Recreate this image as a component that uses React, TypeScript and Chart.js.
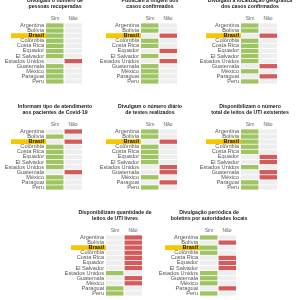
import React, { useEffect, useRef } from 'react';
import { Chart, registerables } from 'chart.js';

Chart.register(...registerables);

const countries = [
  'Argentina', 'Bolívia', 'Brasil', 'Colômbia', 'Costa Rica', 'Equador',
  'El Salvador', 'Estados Unidos', 'Guatemala', 'México', 'Paraguai', 'Peru',
];

const columnLabels = ['Sim', 'Não'];
const highlighted = 'Brasil';

const titles = [
  ['Divulgam o número de', 'pessoas recuperadas'],
  ['Publicam a origem dos', 'casos confirmados'],
  ['Divulgam a localização geográfica', 'dos casos confirmados'],
  ['Informam tipo de atendimento', 'aos pacientes de Covid-19'],
  ['Divulgam o número diário', 'de testes realizados'],
  ['Disponibilizam o número', 'total de leitos de UTI existentes'],
  ['Disponibilizam quantidade de', 'leitos de UTI livres'],
  ['Divulgação periódica de', 'boletins por autoridades locais'],
];

// 1 = Sim, 0 = Não
const recuperadas = [1, 1, 1, 1, 1, 1, 1, 0, 1, 1, 1, 1];
const origem = [1, 1, 0, 1, 1, 0, 1, 0, 1, 1, 1, 1];
const localizacao = [1, 1, 0, 1, 1, 1, 1, 1, 0, 1, 0, 1];
const atendimento = [0, 1, 0, 1, 1, 1, 1, 1, 0, 1, 1, 1];
const testes = [1, 1, 0, 1, 1, 1, 1, 0, 0, 1, 0, 1];
const leitosTotal = [1, 1, 1, 1, 1, 0, 0, 1, 0, 0, 1, 1];
const leitosLivres = [0, 0, 0, 0, 0, 0, 0, 1, 0, 0, 1, 1];
const boletins = [1, 0, 1, 1, 0, 0, 0, 1, 1, 1, 0, 1];

const answers = [recuperadas, origem, localizacao, atendimento, testes, leitosTotal, leitosLivres, boletins];

const GREEN = '#9fc563';
const RED = '#d45b5b';
const GRAY = '#eeeeee';
const YELLOW = '#f7c600';
const FONT = 'Liberation Sans, Arial, sans-serif';

const W = 106;
const H = 88;
const LABEL_W = 44;

const positions = [
  { left: 2, top: -4 },
  { left: 97, top: -4 },
  { left: 197, top: -4 },
  { left: 2, top: 102 },
  { left: 97, top: 102 },
  { left: 197, top: 102 },
  { left: 62, top: 208 },
  { left: 156, top: 208 },
];

const highlightPlugin = {
  id: 'highlightRow',
  beforeDraw(chart: any) {
    const y = chart.scales.y;
    const idx = countries.indexOf(highlighted);
    const py = y.getPixelForValue(idx);
    const pitch = (y.bottom - y.top) / countries.length;
    const h = pitch * 0.95;
    const ctx = chart.ctx;
    ctx.save();
    ctx.fillStyle = YELLOW;
    ctx.fillRect(chart.chartArea.left - 35, py - h / 2, 35, h);
    ctx.restore();
  },
};

function Panel({ title, values, left, top }: { title: string[]; values: number[]; left: number; top: number }) {
  const ref = useRef<HTMLCanvasElement>(null);
  useEffect(() => {
    const chart = new Chart(ref.current as HTMLCanvasElement, {
      type: 'bar',
      data: {
        labels: countries,
        datasets: [
          {
            label: columnLabels[0],
            data: values.map(() => [0, 0.97]) as any,
            backgroundColor: values.map((v) => (v === 1 ? GREEN : GRAY)),
          },
          {
            label: columnLabels[1],
            data: values.map(() => [1.03, 2]) as any,
            backgroundColor: values.map((v) => (v === 0 ? RED : GRAY)),
          },
        ],
      },
      options: {
        indexAxis: 'y',
        responsive: false,
        animation: false,
        devicePixelRatio: 1,
        datasets: { bar: { grouped: false, categoryPercentage: 0.84, barPercentage: 1 } } as any,
        layout: { padding: 0 },
        scales: {
          x: {
            type: 'linear',
            position: 'top',
            min: 0,
            max: 3.44,
            grid: { display: false, drawTicks: false },
            border: { display: false },
            afterBuildTicks: (s: any) => {
              s.ticks = [{ value: 0.5 }, { value: 1.5 }];
            },
            afterFit: (s: any) => {
              s.height = 8;
              s.paddingLeft = 0;
              s.paddingRight = 0;
            },
            ticks: {
              autoSkip: false,
              maxRotation: 0,
              padding: 1,
              color: '#666',
              font: { family: FONT, size: 5 },
              callback: (v: any) => (v === 0.5 ? columnLabels[0] : v === 1.5 ? columnLabels[1] : ''),
            },
          },
          y: {
            type: 'category',
            grid: { display: false, drawTicks: false },
            border: { display: false },
            afterFit: (s: any) => {
              s.width = LABEL_W;
              s.paddingTop = 0;
              s.paddingBottom = 0;
            },
            ticks: {
              autoSkip: false,
              padding: 2,
              color: (c: any) => (countries[c.index] === highlighted ? '#111' : '#555'),
              font: (c: any) => ({
                family: FONT,
                size: 5.6,
                weight: countries[c.index] === highlighted ? 'bold' : 'normal',
              }),
            },
          },
        },
        plugins: {
          legend: { display: false },
          tooltip: { enabled: false },
          title: {
            display: true,
            text: title,
            color: '#222',
            font: { family: FONT, size: 5.2, weight: 'bold', lineHeight: 1.15 },
            padding: { top: 2, bottom: 5 },
          },
        },
      } as any,
      plugins: [highlightPlugin],
    });
    return () => chart.destroy();
  }, [title, values]);
  return (
    <canvas
      ref={ref}
      width={W}
      height={H}
      style={{ position: 'absolute', left, top, width: W, height: H }}
    />
  );
}

export default function App() {
  return (
    <div
      style={{
        position: 'fixed',
        left: 0,
        top: 0,
        width: 300,
        height: 300,
        overflow: 'hidden',
        background: '#fff',
      }}
    >
      {titles.map((t, i) => (
        <Panel key={i} title={t} values={answers[i]} left={positions[i].left} top={positions[i].top} />
      ))}
    </div>
  );
}
